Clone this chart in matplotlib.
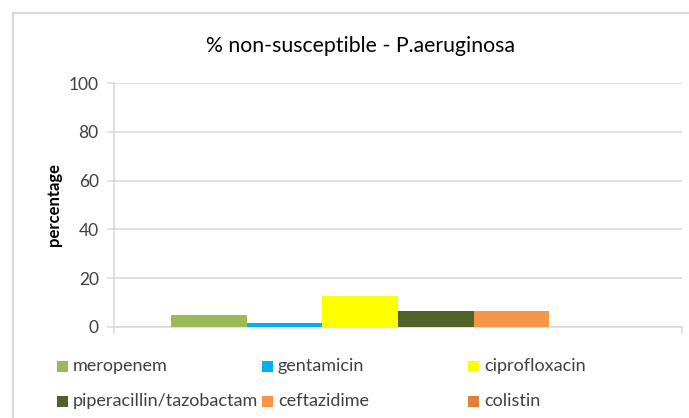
import numpy as np
import matplotlib
matplotlib.use("Agg")
import matplotlib.pyplot as plt
from matplotlib.patches import Rectangle
from matplotlib.lines import Line2D

# data
antibiotics = ["meropenem", "gentamicin", "ciprofloxacin",
               "piperacillin/tazobactam", "ceftazidime", "colistin"]
pct_non_susceptible = [4.8, 1.4, 12.8, 6.6, 6.6, 0.0]
bar_colors = ["#9BBB59", "#00B0F0", "#FFFF00", "#4F6228", "#F79646", "#E0823C"]
y_ticks = [0, 20, 40, 60, 80, 100]

plt.rcParams['font.family'] = ['Lato', 'DejaVu Sans']

W, H = 689, 418
fig = plt.figure(figsize=(W / 100, H / 100), dpi=100)
fig.patch.set_facecolor('white')

def fx(px):
    return px / W

def fy(py):
    return 1 - py / H

# chart frame (only left and top edges are inside the screenshot)
grey = '#D9D9D9'
fig.add_artist(Line2D([fx(13), fx(13)], [fy(13), 0], color=grey, lw=1.6))
fig.add_artist(Line2D([fx(13), 1], [fy(13), fy(13)], color=grey, lw=1.6))

ax = fig.add_axes([fx(114), fy(326.7), 568 / W, 243.4 / H])

n = len(antibiotics)
width = 0.8 / n
offsets = (np.arange(n) - (n - 1) / 2) * width
for off, val, col in zip(offsets, pct_non_susceptible, bar_colors):
    ax.bar(off, val, width=width, color=col, edgecolor='none', zorder=3)

ax.set_xlim(-0.5, 0.5)
ax.set_ylim(0, 100)
ax.set_yticks(y_ticks)
ax.set_xticks([-0.5, 0.5])
ax.set_xticklabels([])
ax.yaxis.grid(True, color=grey, lw=1.1, zorder=0)
ax.set_axisbelow(True)
for side in ['top', 'right']:
    ax.spines[side].set_visible(False)
for side in ['left', 'bottom']:
    ax.spines[side].set_color(grey)
    ax.spines[side].set_linewidth(1.1)
ax.tick_params(axis='y', direction='out', length=5, width=1.1, color=grey,
               labelsize=12.5, labelcolor='#404040', pad=6)
ax.tick_params(axis='x', direction='out', length=5, width=1.1, color=grey)

fig.text(fx(54), fy(205), 'percentage', rotation=90, ha='center', va='center',
         fontsize=12, fontweight='bold', color='#000000')

fig.text(fx(360), fy(46), '% non-susceptible - P.aeruginosa', ha='center',
         va='center', fontsize=15.3, color='#000000')

# legend, laid out in a 3 x 2 grid like the original
col_x = [57, 262, 468]
row_y = [366, 401]
order = [(0, 0), (0, 1), (0, 2), (1, 0), (1, 1), (1, 2)]
for (r, c), name, col in zip(order, antibiotics, bar_colors):
    x0, y0 = col_x[c], row_y[r]
    fig.add_artist(Rectangle((fx(x0), fy(y0 + 5.5)), 11 / W, 11 / H,
                             transform=fig.transFigure, facecolor=col,
                             edgecolor='none'))
    fig.text(fx(x0 + 16), fy(y0), name, ha='left', va='center',
             fontsize=13, color='#404040')

fig.savefig('out.png', dpi=100)
